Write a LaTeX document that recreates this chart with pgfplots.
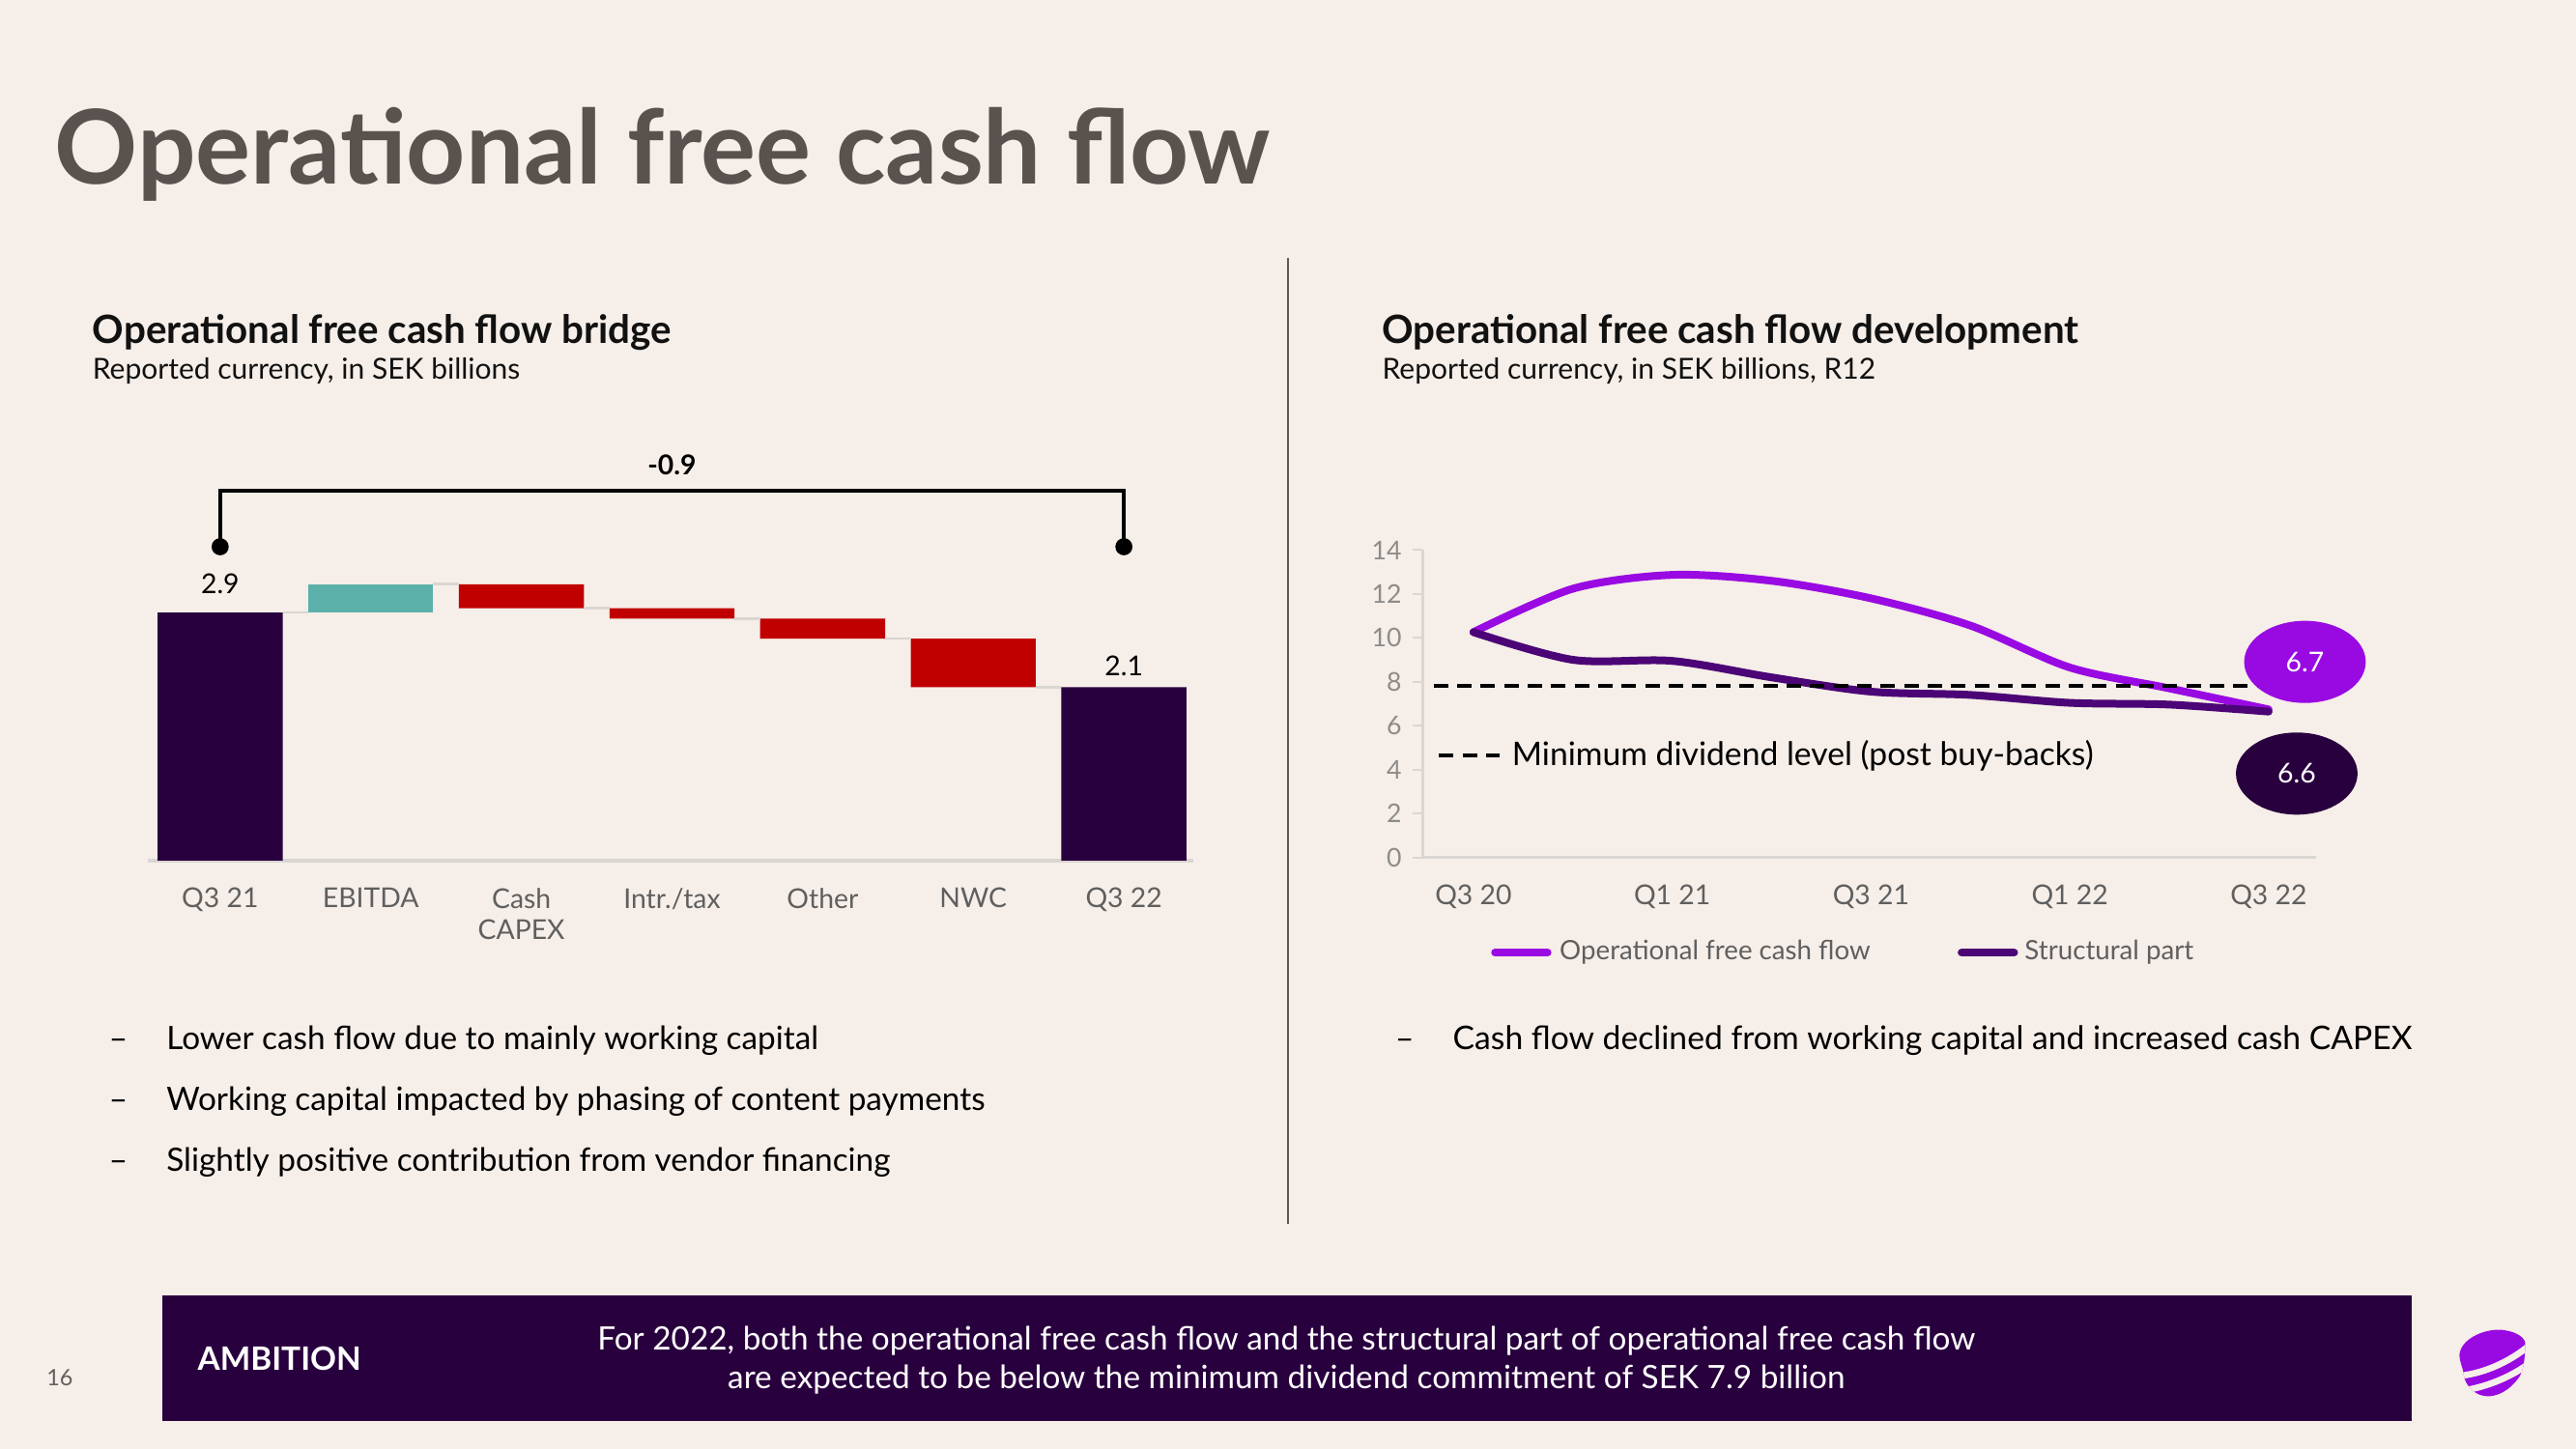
\documentclass[border=0pt]{standalone}
\usepackage{fontspec}
\setmainfont{Lato}
\usepackage{pgfplots}
\pgfplotsset{compat=1.18}
\definecolor{bg}{RGB}{246,238,232}
\definecolor{titlegray}{RGB}{90,82,78}
\definecolor{dpurple}{RGB}{41,0,62}
\definecolor{wteal}{RGB}{91,177,169}
\definecolor{wred}{RGB}{192,0,0}
\definecolor{tpurple}{RGB}{153,10,227}
\definecolor{spurple}{RGB}{75,5,118}
\definecolor{lineg}{RGB}{217,214,211}
\definecolor{tickgray}{RGB}{95,95,95}
\definecolor{lgray}{RGB}{140,140,140}
\definecolor{divgray}{RGB}{90,90,90}
\definecolor{heading}{RGB}{17,17,17}
\newcommand\fs[2]{\fontsize{#1}{#2}\selectfont}
\begin{document}
\begin{tikzpicture}[x=0.51pt,y=0.51pt]
\fill[bg] (0,0) rectangle (1568,882);
\useasboundingbox (0,0) rectangle (1568,882);

% title
\node[anchor=base west, inner sep=0, text=titlegray] at (33,770) {\fs{32}{36}\bfseries Operational free cash flow};
% divider
\draw[divgray, line width=0.5pt] (784,725) -- (784,137);
% headings
\node[anchor=base west, inner sep=0, text=heading] at (56,673) {\fs{12.1}{14}\bfseries Operational free cash flow bridge};
\node[anchor=base west, inner sep=0, text=heading] at (56,651) {\fs{9}{11}Reported currency, in SEK billions};
\node[anchor=base west, inner sep=0, text=heading] at (841,673) {\fs{12.1}{14}\bfseries Operational free cash flow development};
\node[anchor=base west, inner sep=0, text=heading] at (841,651) {\fs{9}{11}Reported currency, in SEK billions, R12};

% ---------------- waterfall ----------------
\begin{axis}[
  at={(45.9pt,182.58pt)}, anchor=south west,
  scale only axis, width=324.5pt, height=91.7pt,
  xmin=-0.48, xmax=6.46, ymin=0, ymax=3.5,
  ybar stacked, bar width=0.83,
  axis x line=bottom, hide y axis,
  x axis line style={-, draw=lineg, line width=1pt},
  xtick={0,1,2,3,4,5,6},
  xticklabels={Q3 21, EBITDA, Cash\\CAPEX, Intr./tax, Other, NWC, Q3 22},
  xticklabel style={align=center, font=\fs{8.5}{9.7}, text=tickgray, yshift=-5pt},
  major tick length=0pt,
  clip=false,
]
\addplot[fill=none, draw=none] coordinates {(0,0)(1,2.94)(2,2.991)(3,2.869)(4,2.632)(5,2.055)(6,0)};
\addplot[fill=dpurple, draw=none] coordinates {(0,2.94)(1,0)(2,0)(3,0)(4,0)(5,0)(6,2.055)};
\addplot[fill=wteal, draw=none] coordinates {(0,0)(1,0.336)(2,0)(3,0)(4,0)(5,0)(6,0)};
\addplot[fill=wred, draw=none] coordinates {(0,0)(1,0)(2,0.285)(3,0.122)(4,0.237)(5,0.577)(6,0)};
\end{axis}
\begin{axis}[
  at={(45.9pt,182.58pt)}, anchor=south west,
  scale only axis, width=324.5pt, height=91.7pt,
  xmin=-0.48, xmax=6.46, ymin=0, ymax=3.5,
  hide axis, clip=false,
]
\addplot[lineg, line width=0.8pt, no marks] coordinates {(0.415,2.94)(0.585,2.94)};
\addplot[lineg, line width=0.8pt, no marks] coordinates {(1.415,3.276)(1.585,3.276)};
\addplot[lineg, line width=0.8pt, no marks] coordinates {(2.415,2.991)(2.585,2.991)};
\addplot[lineg, line width=0.8pt, no marks] coordinates {(3.415,2.869)(3.585,2.869)};
\addplot[lineg, line width=0.8pt, no marks] coordinates {(4.415,2.632)(4.585,2.632)};
\addplot[lineg, line width=0.8pt, no marks] coordinates {(5.415,2.055)(5.585,2.055)};
\addplot[black, line width=1.1pt, mark=*, mark size=2.1pt, mark indices={1,4}, mark options={fill=black}] coordinates {(0,3.72)(0,4.38)(6,4.38)(6,3.72)};
\node[font=\fs{8.5}{10}] at (axis cs:0,3.28) {2.9};
\node[font=\fs{8.5}{10}] at (axis cs:6,2.31) {2.1};
\node[font=\fs{8.5}{10}\bfseries] at (axis cs:3,4.69) {-0.9};
\end{axis}

% ---------------- line chart ----------------
\begin{axis}[
  at={(441.66pt,183.6pt)}, anchor=south west,
  scale only axis, width=277.4pt, height=95.4pt,
  xmin=-0.51, xmax=8.48, ymin=0, ymax=14,
  axis x line=bottom, axis y line=left,
  axis line style={-, draw=lineg, line width=0.8pt},
  xtick={0,2,4,6,8}, xticklabels={Q3 20,Q1 21,Q3 21,Q1 22,Q3 22},
  ytick={0,2,4,6,8,10,12,14},
  xtick style={draw=none},
  ytick style={draw=lineg, line width=0.6pt},
  tick align=outside, major tick length=3pt,
  xticklabel style={font=\fs{8.5}{10}, text=tickgray, yshift=-2pt},
  yticklabel style={font=\fs{8}{10}, text=lgray},
  /pgf/number format/assume math mode=true,
  clip=false,
]
\addplot[tpurple, line width=2.4pt, smooth, line cap=round, no marks] coordinates {(0,10.26)(1,12.24)(2,12.87)(3,12.6)(4,11.8)(5,10.56)(6,8.65)(7,7.7)(8,6.74)};
\addplot[spurple, line width=2.4pt, smooth, line cap=round, no marks] coordinates {(0,10.26)(1,9.0)(2,8.95)(3,8.2)(4,7.55)(5,7.4)(6,7.04)(7,6.96)(8,6.64)};
\addplot[black, line width=1.3pt, dash pattern=on 4.5pt off 2.8pt, no marks] coordinates {(-0.4,7.8)(8.0,7.8)};
\end{axis}
% annotation
\draw[black, line width=1.3pt, dash pattern=on 4.5pt off 2.8pt] (876,422) -- (913,422);
\node[anchor=west, inner sep=0] at (920,422) {\fs{10.1}{12}Minimum dividend level (post buy-backs)};
% bubbles
\fill[tpurple] (1403,479) ellipse [x radius=37, y radius=25];
\node[text=white] at (1403,479) {\fs{8.5}{10}6.7};
\fill[dpurple] (1398,411) ellipse [x radius=37, y radius=25];
\node[text=white] at (1398,411) {\fs{8.5}{10}6.6};
% legend
\draw[tpurple, line width=2.4pt, line cap=round] (910,302) -- (942,302);
\node[anchor=west, inner sep=0, text=tickgray] at (949,302) {\fs{8.3}{10}Operational free cash flow};
\draw[spurple, line width=2.4pt, line cap=round] (1194,302) -- (1226,302);
\node[anchor=west, inner sep=0, text=tickgray] at (1232,302) {\fs{8.3}{10}Structural part};

% bullets
\foreach \y/\t in {243/Lower cash flow due to mainly working capital, 206/Working capital impacted by phasing of content payments, 169/Slightly positive contribution from vendor financing}{
  \node[anchor=base west, inner sep=0] at (66,\y) {\fs{10}{12}–};
  \node[anchor=base west, inner sep=0] at (101,\y) {\fs{10}{12}\t};
}
\node[anchor=base west, inner sep=0] at (849,243) {\fs{10}{12}–};
\node[anchor=base west, inner sep=0] at (884,243) {\fs{10.1}{12}Cash flow declined from working capital and increased cash CAPEX};

% banner
\fill[dpurple] (99,93) rectangle (1468,17);
\node[anchor=west, inner sep=0, text=white] at (120,55) {\fs{10}{12}\bfseries AMBITION};
\node[align=center, text=white, inner sep=0] at (783,54) {\fs{10}{12.2}For 2022, both the operational free cash flow and the structural part of operational free cash flow\\are expected to be below the minimum dividend commitment of SEK 7.9 billion};
\node[anchor=west, inner sep=0, text=tickgray] at (28,43) {\fs{7}{8}16};

% logo
\begin{scope}
\clip (1497,57) .. controls (1498,68) and (1515,74) .. (1525,72) .. controls (1532,71) and (1538,67) .. (1537,63) .. controls (1537,55) and (1536,47) .. (1533,43) .. controls (1528,36) and (1520,31) .. (1512.5,32) .. controls (1505,33) and (1500,40) .. (1499.7,45) .. controls (1499,50) and (1497,53) .. cycle;
\fill[tpurple] (1490,25) rectangle (1545,80);
\draw[bg, line width=2pt] (1494,44) .. controls (1510,45) and (1527,52) .. (1541,64);
\draw[bg, line width=2pt] (1497,35) .. controls (1512,37) and (1528,43) .. (1541,53);
\end{scope}
\end{tikzpicture}
\end{document}
